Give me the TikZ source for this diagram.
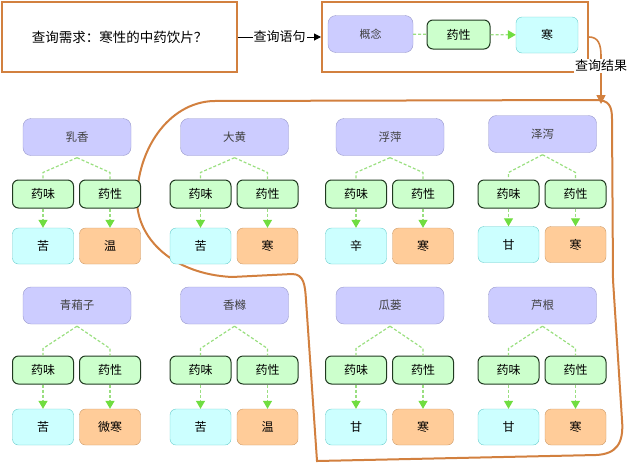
\documentclass[tikz,border=0pt]{standalone}
\usepackage{fontspec}
\setmainfont{Noto Sans CJK SC}
\usetikzlibrary{arrows.meta,positioning}

\definecolor{frameorange}{HTML}{D2803F}
\definecolor{conceptfill}{HTML}{CCCCFF}
\definecolor{conceptline}{HTML}{9999CC}
\definecolor{relfill}{HTML}{CCFFCC}
\definecolor{relline}{HTML}{203A20}
\definecolor{tastefill}{HTML}{CCFFFF}
\definecolor{tasteline}{HTML}{66CCCC}
\definecolor{naturefill}{HTML}{FFCC99}
\definecolor{natureline}{HTML}{CC9966}
\definecolor{linkgreen}{HTML}{9ADF80}
\definecolor{tipgreen}{HTML}{70DD40}

\tikzset{
  frame/.style={draw=frameorange,line width=2pt},
  concept/.style={draw=conceptline,fill=conceptfill,rounded corners=8pt,inner sep=0pt,
    minimum width=108pt,minimum height=37pt,text=black!75,font=\fontsize{11.5}{13}\selectfont},
  relation/.style={draw=relline,fill=relfill,rounded corners=6pt,inner sep=0pt,line width=1pt,
    minimum width=61pt,minimum height=28pt,font=\fontsize{12}{13}\selectfont},
  taste/.style={draw=tasteline,fill=tastefill,rounded corners=6pt,inner sep=0pt,
    minimum width=61pt,minimum height=36pt,font=\fontsize{12}{13}\selectfont},
  nature/.style={draw=natureline,fill=naturefill,rounded corners=6pt,inner sep=0pt,
    minimum width=61pt,minimum height=36pt,font=\fontsize{12}{13}\selectfont},
  link/.style={draw=linkgreen,line width=1.2pt,dash pattern=on 3pt off 2pt},
  linkarrow/.style={link,-{Triangle[length=8pt,width=9pt,color=tipgreen]}}
}

\begin{document}
\begin{tikzpicture}[x=1pt,y=-1pt]
  \useasboundingbox (0,0) rectangle (628,464);

  % query and query statement
  \node[frame,minimum width=235pt,minimum height=70pt,inner sep=0pt,
    font=\fontsize{13.5}{15}\selectfont] (need) at (119.5,37) {查询需求：寒性的中药饮片？};
  \node[frame,minimum width=266pt,minimum height=70pt,inner sep=0pt] (stmt) at (455,37) {};
  \node[concept,minimum width=85pt,font=\fontsize{11}{12}\selectfont] (qc) at (370.5,34) {概念};
  \node[relation,minimum width=63pt,minimum height=29pt] (qr) at (458.5,34.5) {药性};
  \node[taste,minimum width=62pt] (qv) at (547,35) {寒};
  \draw[link] (qc) -- (qr);
  \draw[linkarrow] (qr) -- (qv);

  \draw[-{Triangle[length=7pt,width=7pt]},line width=1pt] (need.east) --
    node[fill=white,inner sep=1pt,font=\fontsize{13}{15}\selectfont] {查询语句} (stmt.west);

  \coordinate (res) at (601,104);
  \draw[frameorange,line width=1.6pt,-{Triangle[length=9pt,width=9pt]}]
    (stmt.east) .. controls (598,37) and (601,44) .. (601,56) --
    node[pos=0.2,fill=white,inner sep=1pt,text=black,font=\fontsize{13}{15}\selectfont] {查询结果} (res);

  % result outline
  \draw[frame] (213,101) -- (596,100) .. controls (609,100) and (612,106) .. (612,119)
    -- (613,280) -- (622,420) .. controls (624,444) and (616,454) .. (596,455)
    -- (317,461) -- (306,300) .. controls (305,285) and (304,274) .. (292,274)
    -- (232,277) .. controls (172,274) and (137,238) .. (137,200)
    .. controls (137,150) and (168,103) .. (213,101);

  % herbs
  \foreach \i/\cx/\cy/\sy/\vy/\herb/\wei/\xing in {
      1/77/137/194/246/乳香/苦/温, 2/234.5/137/194/246/大黄/苦/寒,
      3/390/137/194/246/浮萍/辛/寒, 4/542.5/134/194/244.5/泽泻/甘/寒,
      5/77/305.5/370/427/青葙子/苦/微寒, 6/234.5/305.5/370/427/香橼/苦/温,
      7/390/305.5/370/427/瓜蒌/甘/寒, 8/542.5/305.5/370/427/芦根/甘/寒} {
    \node[concept] (n\i) at (\cx,\cy) {\herb};
    \node[relation] (w\i) at (\cx-34,\sy) {药味};
    \node[relation] (x\i) at (\cx+33,\sy) {药性};
    \node[taste] (wv\i) at (\cx-34,\vy) {\wei};
    \node[nature] (xv\i) at (\cx+33,\vy) {\xing};
    \draw[link] ([yshift=-2pt]n\i.south) -- ([yshift=7pt]w\i.north) -- (w\i.north);
    \draw[link] ([yshift=-2pt]n\i.south) -- ([yshift=7pt]x\i.north) -- (x\i.north);
    \draw[linkarrow] (w\i) -- (wv\i);
    \draw[linkarrow] (x\i) -- (xv\i);
  }
\end{tikzpicture}
\end{document}
